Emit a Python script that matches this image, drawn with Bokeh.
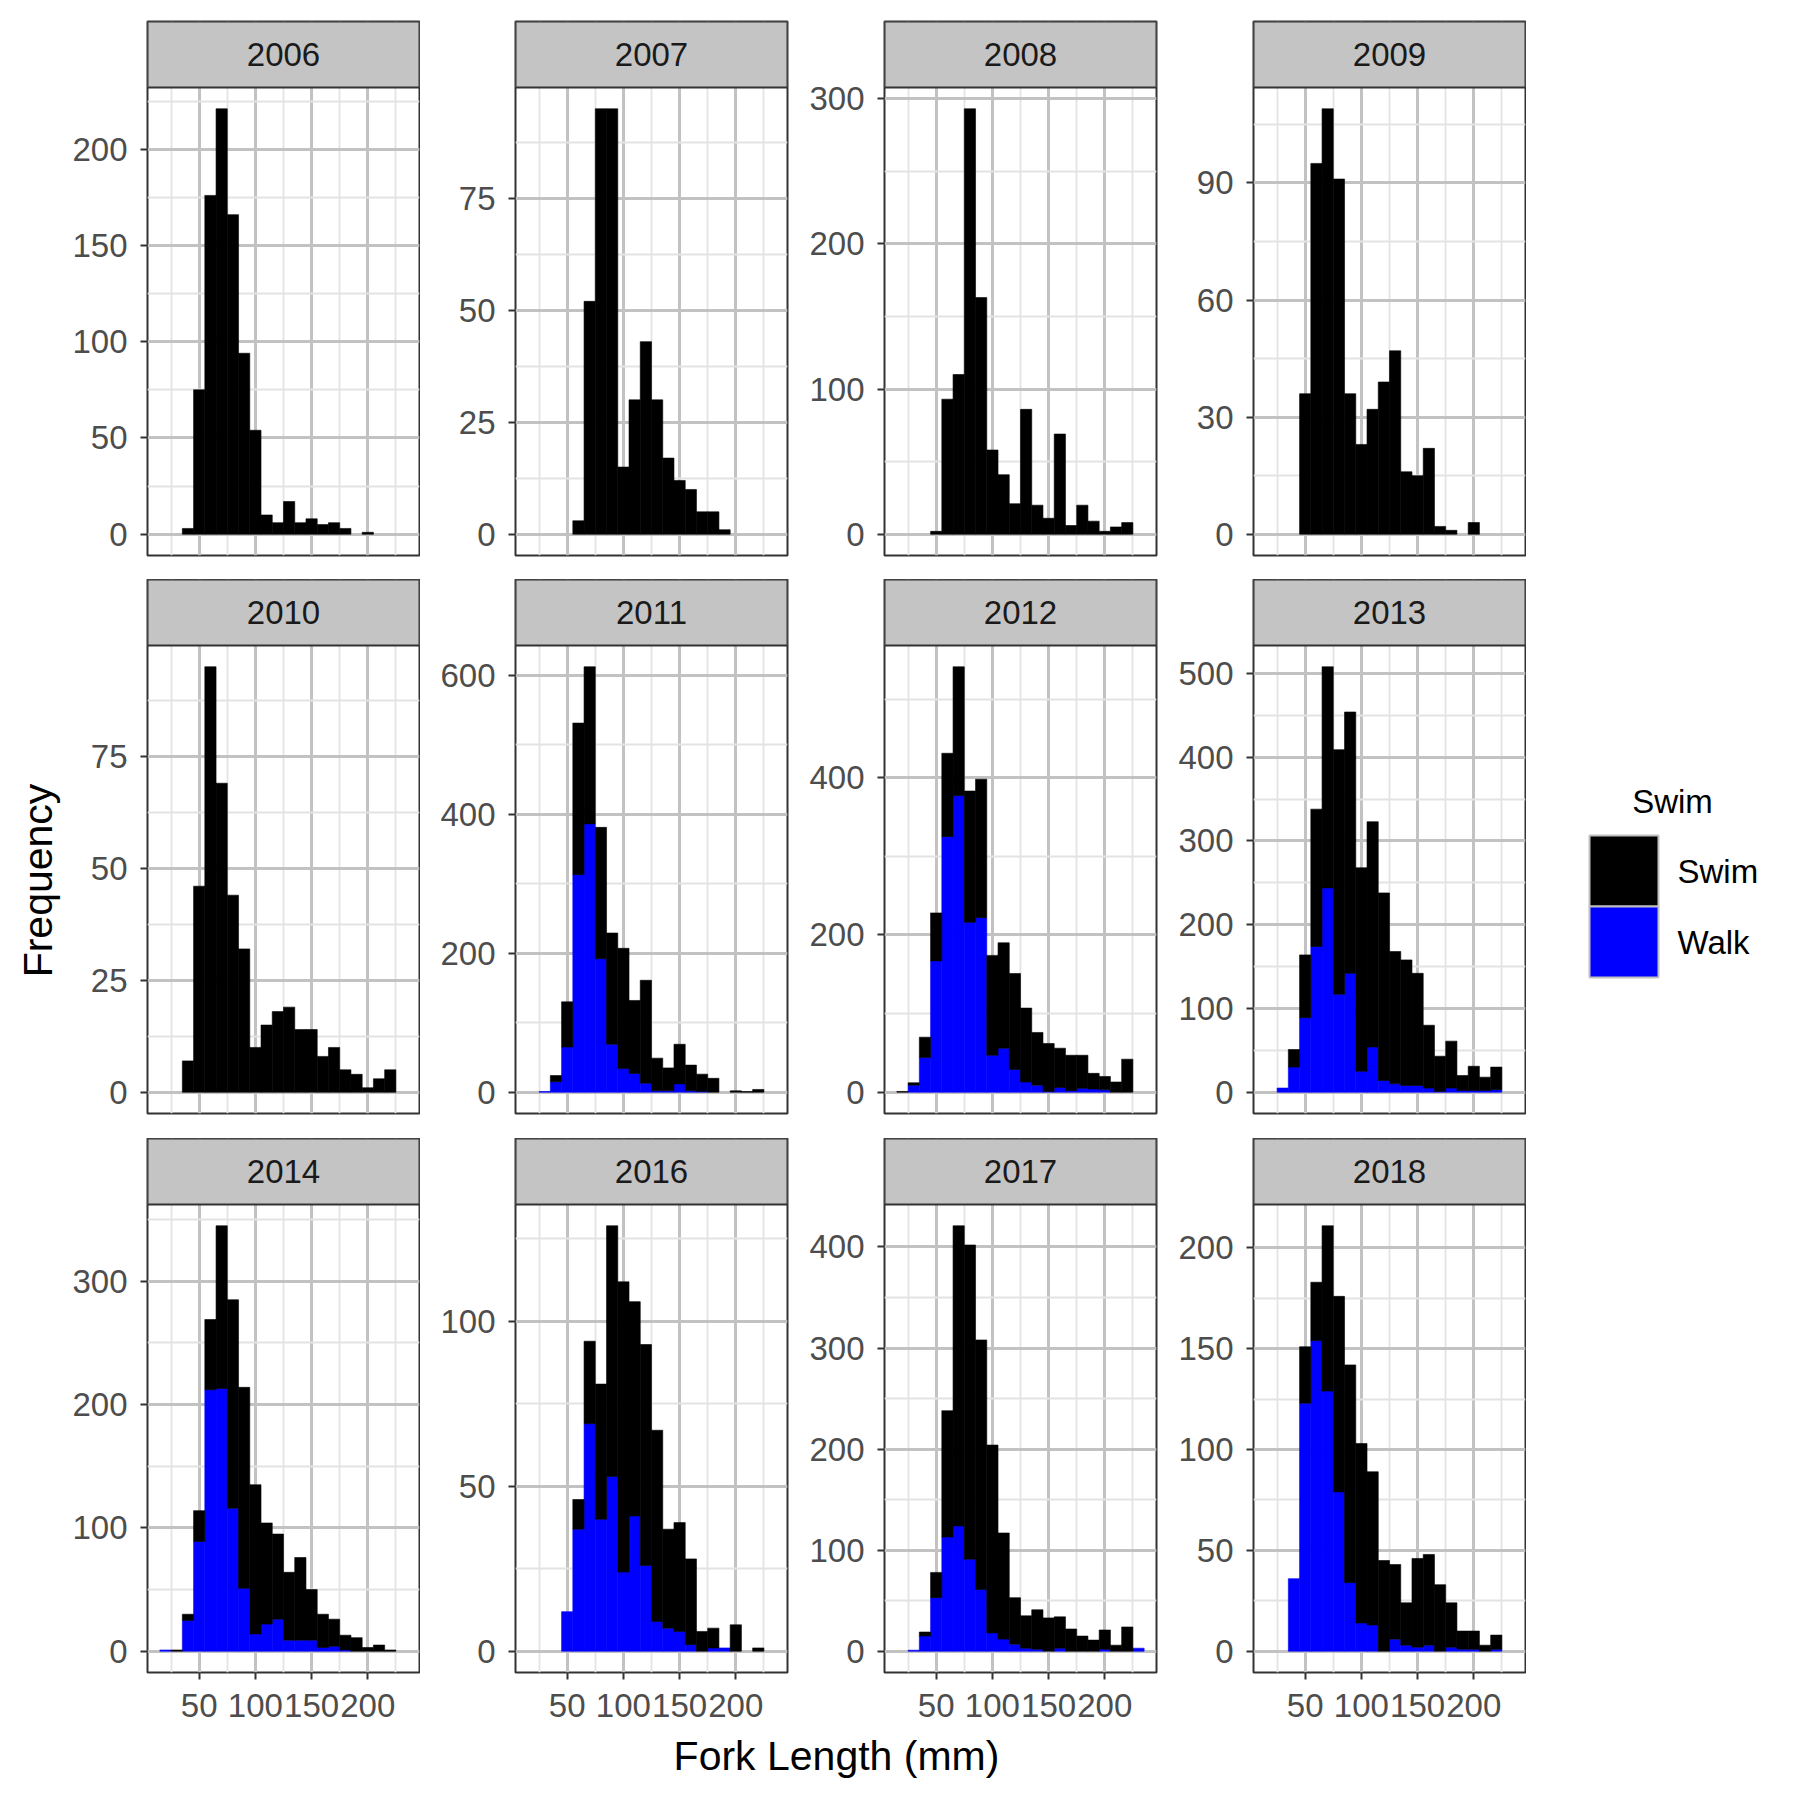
import math
from bokeh.plotting import figure
from bokeh.layouts import row, column
from bokeh.models import (Range1d, FixedTicker, LinearAxis, Grid, ColumnDataSource, Label)
from bokeh.embed import file_html
from bokeh.resources import INLINE
from bokeh.core.properties import value

# ---------------- data ----------------
years = ["2006", "2007", "2008", "2009", "2010", "2011",
         "2012", "2013", "2014", "2016", "2017", "2018"]
categories = ["Swim", "Walk"]
category_colors = ["#000000", "#0000FF"]
bin_width = 10
bin_centers = [20, 30, 40, 50, 60, 70, 80, 90, 100, 110, 120,
               130, 140, 150, 160, 170, 180, 190, 200, 210, 220, 230]

swim_2006 = [0, 0, 3, 75, 176, 221, 166, 94, 54, 10, 6, 17, 6, 8, 5, 6, 3, 0, 1, 0, 0, 0]
walk_2006 = [0, 0, 0, 0, 0, 0, 0, 0, 0, 0, 0, 0, 0, 0, 0, 0, 0, 0, 0, 0, 0, 0]
swim_2007 = [0, 0, 0, 0, 3, 52, 95, 95, 15, 30, 43, 30, 17, 12, 10, 5, 5, 1, 0, 0, 0, 0]
walk_2007 = [0, 0, 0, 0, 0, 0, 0, 0, 0, 0, 0, 0, 0, 0, 0, 0, 0, 0, 0, 0, 0, 0]
swim_2008 = [0, 0, 0, 2, 93, 110, 293, 163, 58, 41, 21, 86, 20, 11, 69, 6, 20, 9, 2, 5, 8, 0]
walk_2008 = [0, 0, 0, 0, 0, 0, 0, 0, 0, 0, 0, 0, 0, 0, 0, 0, 0, 0, 0, 0, 0, 0]
swim_2009 = [0, 0, 0, 36, 95, 109, 91, 36, 23, 32, 39, 47, 16, 15, 22, 2, 1, 0, 3, 0, 0, 0]
walk_2009 = [0, 0, 0, 0, 0, 0, 0, 0, 0, 0, 0, 0, 0, 0, 0, 0, 0, 0, 0, 0, 0, 0]
swim_2010 = [0, 0, 7, 46, 95, 69, 44, 32, 10, 15, 18, 19, 14, 14, 8, 10, 5, 4, 1, 3, 5, 0]
walk_2010 = [0, 0, 0, 0, 0, 0, 0, 0, 0, 0, 0, 0, 0, 0, 0, 0, 0, 0, 0, 0, 0, 0]
swim_2011 = [0, 0, 9, 65, 218, 226, 189, 160, 173, 105, 148, 47, 33, 57, 37, 25, 20, 0, 2, 1, 4, 0]
walk_2011 = [0, 1, 15, 65, 313, 386, 192, 69, 34, 27, 13, 2, 2, 12, 2, 1, 0, 0, 0, 0, 0, 0]
swim_2012 = [1, 3, 26, 61, 106, 164, 167, 176, 127, 134, 122, 94, 67, 61, 50, 45, 42, 20, 17, 13, 42, 0]
walk_2012 = [0, 9, 44, 167, 325, 377, 216, 222, 47, 56, 29, 13, 9, 1, 6, 2, 5, 4, 3, 0, 0, 0]
swim_2013 = [0, 0, 21, 75, 164, 264, 292, 312, 243, 269, 224, 158, 150, 134, 75, 42, 56, 18, 29, 16, 27, 0]
walk_2013 = [0, 5, 30, 89, 174, 244, 117, 142, 25, 54, 14, 10, 8, 8, 5, 1, 5, 2, 2, 2, 3, 0]
swim_2014 = [0, 1, 5, 25, 57, 132, 169, 163, 121, 82, 69, 55, 67, 41, 27, 22, 12, 11, 3, 5, 1, 0]
walk_2014 = [1, 0, 25, 89, 212, 213, 116, 51, 14, 22, 26, 9, 9, 9, 3, 4, 1, 0, 0, 0, 0, 0]
swim_2016 = [0, 0, 0, 0, 9, 25, 41, 76, 88, 65, 67, 58, 30, 33, 26, 6, 6, 0, 8, 0, 1, 0]
walk_2016 = [0, 0, 0, 12, 37, 69, 40, 53, 24, 41, 26, 9, 7, 6, 2, 0, 1, 1, 0, 0, 0, 0]
swim_2017 = [0, 0, 4, 25, 125, 297, 311, 247, 186, 105, 46, 32, 39, 33, 31, 22, 15, 11, 19, 6, 24, 0]
walk_2017 = [0, 1, 15, 53, 113, 124, 91, 61, 18, 12, 7, 3, 2, 0, 3, 0, 0, 0, 2, 0, 0, 3]
swim_2018 = [0, 0, 0, 28, 29, 82, 97, 108, 89, 76, 45, 37, 21, 44, 45, 33, 22, 9, 9, 3, 7, 0]
walk_2018 = [0, 0, 36, 123, 154, 129, 79, 34, 14, 13, 0, 6, 3, 2, 3, 0, 2, 1, 1, 0, 1, 0]

yticks_2006 = [0, 50, 100, 150, 200]
yticks_2007 = [0, 25, 50, 75]
yticks_2008 = [0, 100, 200, 300]
yticks_2009 = [0, 30, 60, 90]
yticks_2010 = [0, 25, 50, 75]
yticks_2011 = [0, 200, 400, 600]
yticks_2012 = [0, 200, 400]
yticks_2013 = [0, 100, 200, 300, 400, 500]
yticks_2014 = [0, 100, 200, 300]
yticks_2016 = [0, 50, 100]
yticks_2017 = [0, 100, 200, 300, 400]
yticks_2018 = [0, 50, 100, 150, 200]

x_ticks = [50, 100, 150, 200]
x_minor_ticks = [25, 75, 125, 175, 225]

x_label = "Fork Length (mm)"
y_label = "Frequency"
legend_title = "Swim"

swim_by_year = [swim_2006, swim_2007, swim_2008, swim_2009, swim_2010, swim_2011,
                swim_2012, swim_2013, swim_2014, swim_2016, swim_2017, swim_2018]
walk_by_year = [walk_2006, walk_2007, walk_2008, walk_2009, walk_2010, walk_2011,
                walk_2012, walk_2013, walk_2014, walk_2016, walk_2017, walk_2018]
yticks_by_year = [yticks_2006, yticks_2007, yticks_2008, yticks_2009, yticks_2010, yticks_2011,
                  yticks_2012, yticks_2013, yticks_2014, yticks_2016, yticks_2017, yticks_2018]

# ---------------- style / layout ----------------
FONT = "Liberation Sans"
MAJOR = "#C2C2C2"
MINOR = "#E3E3E3"
BORDER = "#333333"
STRIP_FILL = "#C4C4C4"
FRAME_W = 272
FRAME_H = 468
STRIP_H = 66
LEFTS = [81, 95, 95, 95]
CELL_W = [354, 369, 369, 368]
ROW_TOP = [21, 0, 0]
ROW_BOTTOM = [24, 25, 60]
YLAB_W = 66
LEG_W = 258

# global x range from data (bins with any count), with 5% expansion
edges_lo, edges_hi = [], []
for s, w in zip(swim_by_year, walk_by_year):
    for c, a, b in zip(bin_centers, s, w):
        if a + b > 0:
            edges_lo.append(c - bin_width / 2)
            edges_hi.append(c + bin_width / 2)
xmin, xmax = min(edges_lo), max(edges_hi)
xpad = 0.05 * (xmax - xmin)
XLO, XHI = xmin - xpad, xmax + xpad


def y_minor(ticks, lo, hi):
    step = ticks[1] - ticks[0]
    cands = [ticks[0] - step / 2] + [t + step / 2 for t in ticks]
    return [c for c in cands if lo < c < hi]


def panel_fig(label, swim, walk, yticks, width, left, top, bottom, show_x):
    total = [a + b for a, b in zip(swim, walk)]
    ymax = max(total)
    lo, hi = -0.05 * ymax, 1.05 * ymax
    ext = hi + (hi - lo) * STRIP_H / FRAME_H   # strip area above the panel
    p = figure(width=width, height=top + STRIP_H + FRAME_H + bottom,
               x_range=Range1d(XLO, XHI), y_range=Range1d(lo, ext),
               x_axis_type=None, y_axis_type=None, toolbar_location=None, output_backend="svg",
               min_border_left=left, min_border_right=width - left - FRAME_W,
               min_border_top=top, min_border_bottom=bottom,
               background_fill_color="white", border_fill_color="white",
               outline_line_color=BORDER, outline_line_width=2)
    p.add_layout(Grid(dimension=0, ticker=FixedTicker(ticks=x_ticks, minor_ticks=x_minor_ticks),
                      grid_line_color=MAJOR, grid_line_width=3,
                      minor_grid_line_color=MINOR, minor_grid_line_width=1.8))
    p.add_layout(Grid(dimension=1, ticker=FixedTicker(ticks=yticks, minor_ticks=y_minor(yticks, lo, hi)),
                      grid_line_color=MAJOR, grid_line_width=3,
                      minor_grid_line_color=MINOR, minor_grid_line_width=1.8))
    yax = LinearAxis(ticker=FixedTicker(ticks=yticks), axis_line_color=None,
                     major_tick_line_color=BORDER, major_tick_line_width=2,
                     major_tick_out=7, major_tick_in=0, minor_tick_line_color=None,
                     major_label_text_font=FONT, major_label_text_font_size="33px",
                     major_label_text_color="#4D4D4D", major_label_standoff=13)
    p.add_layout(yax, "left")
    if show_x:
        xax = LinearAxis(ticker=FixedTicker(ticks=x_ticks), axis_line_color=None,
                         major_tick_line_color=BORDER, major_tick_line_width=2,
                         major_tick_out=7, major_tick_in=0, minor_tick_line_color=None,
                         major_label_text_font=FONT, major_label_text_font_size="33px",
                         major_label_text_color="#4D4D4D", major_label_standoff=14)
        p.add_layout(xax, "below")
    # stacked histogram: Walk at bottom (blue), Swim on top (black)
    wx = [c for c, w in zip(bin_centers, walk) if w > 0]
    wt = [w for w in walk if w > 0]
    src_w = ColumnDataSource(dict(x=wx, bottom=[0] * len(wx), top=wt))
    sx, sb, st = [], [], []
    for c, a, b in zip(bin_centers, swim, walk):
        if a > 0:
            sx.append(c); sb.append(b); st.append(a + b)
    src_s = ColumnDataSource(dict(x=sx, bottom=sb, top=st))
    p.vbar(x="x", bottom="bottom", top="top", width=bin_width, source=src_w,
           fill_color=category_colors[1], line_color=category_colors[1], line_width=0.6)
    p.vbar(x="x", bottom="bottom", top="top", width=bin_width, source=src_s,
           fill_color=category_colors[0], line_color=category_colors[0], line_width=0.6)
    # facet strip
    p.quad(left=[XLO], right=[XHI], bottom=[hi], top=[ext], fill_color=STRIP_FILL,
           line_color=BORDER, line_width=2)
    p.add_layout(Label(x=(XLO + XHI) / 2, y=(hi + ext) / 2, text=label,
                       text_align="center", text_baseline="middle",
                       text_font=FONT, text_font_size="33px", text_color="#1A1A1A"))
    return p


rows = []
for r in range(3):
    cells = []
    for c in range(4):
        i = r * 4 + c
        cells.append(panel_fig(years[i], swim_by_year[i], walk_by_year[i], yticks_by_year[i],
                               CELL_W[c], LEFTS[c], ROW_TOP[r], ROW_BOTTOM[r], r == 2))
    rows.append(row(*cells))
grid = column(*rows)

GRID_H = sum(ROW_TOP) + 3 * (STRIP_H + FRAME_H) + sum(ROW_BOTTOM)
GRID_W = sum(CELL_W)


def blank(w, h):
    return figure(width=w, height=h, x_range=Range1d(0, w), y_range=Range1d(0, h),
                  x_axis_type=None, y_axis_type=None, toolbar_location=None, output_backend="svg",
                  min_border=0, outline_line_color=None, background_fill_color="white",
                  border_fill_color="white")


# y title
ylab = blank(YLAB_W, GRID_H)
ylab.add_layout(Label(x=37, y=GRID_H - 880, text=y_label, angle=math.pi / 2,
                      text_align="center", text_baseline="middle",
                      text_font=FONT, text_font_size="41px", text_color="#000000"))

# legend
leg = blank(LEG_W, GRID_H)
key_w, key_h = 69, 71
key_left, key_top = 63, GRID_H - 835
leg_src = ColumnDataSource(dict(
    x=[key_left + key_w / 2] * len(categories),
    y=[key_top - key_h * (k + 0.5) for k in range(len(categories))],
    color=category_colors,
    label=categories,
    tx=[key_left + key_w + 19] * len(categories),
))
leg.rect(x="x", y="y", width=key_w, height=key_h, fill_color="color",
         line_color="#C0C0C0", line_width=2, source=leg_src)
leg.text(x="tx", y="y", text="label", text_align="left", text_baseline="middle",
         text_font=value(FONT), text_font_size="33px", text_color="#000000", source=leg_src)
leg.add_layout(Label(x=146, y=GRID_H - 801, text=legend_title, text_align="center",
                     text_baseline="middle", text_font=FONT, text_font_size="33px",
                     text_color="#000000"))

# x title
XLAB_H = 50
xlab = blank(YLAB_W + GRID_W, XLAB_H)
xlab.add_layout(Label(x=836, y=XLAB_H - 23, text=x_label, text_align="center",
                      text_baseline="middle", text_font=FONT, text_font_size="41px",
                      text_color="#000000"))

page = column(row(ylab, grid, leg), xlab)

open("out.html", "w").write(file_html(page, INLINE))
